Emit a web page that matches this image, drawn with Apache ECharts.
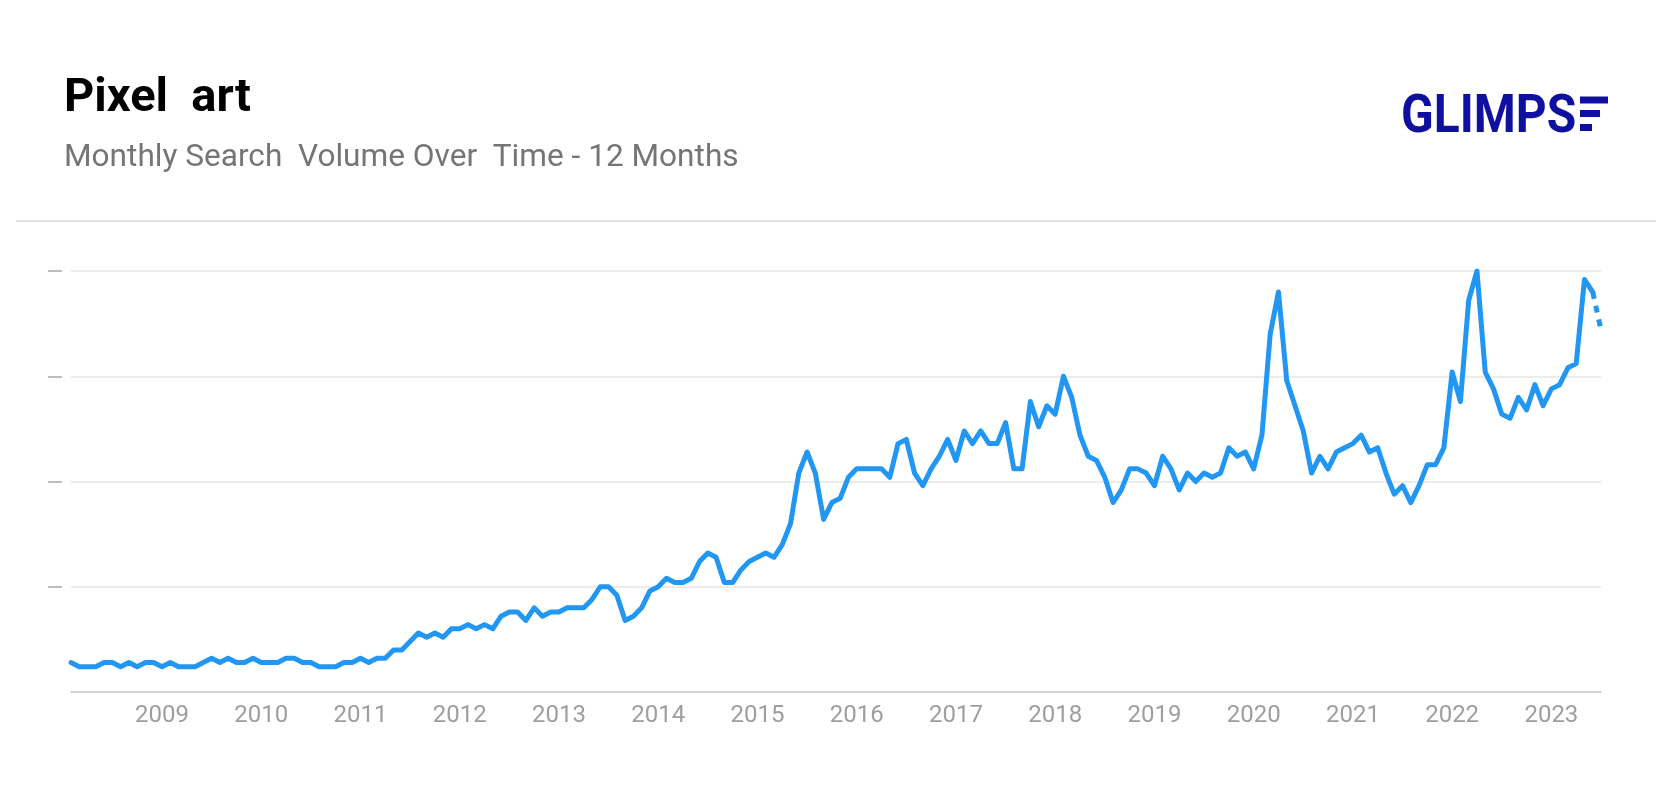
<!DOCTYPE html>
<html>
<head>
<meta charset="utf-8">
<script src="https://cdn.jsdelivr.net/npm/echarts@6/dist/echarts.min.js"></script>
<style>
html,body{margin:0;padding:0;background:#fff;}
#chart{width:1672px;height:792px;}
</style>
</head>
<body>
<div id="chart"></div>
<script>
// Monthly categories: Feb 2008 .. Jul 2023
const startYear = 2008, startMonth = 2, monthCount = 186;
const months = [];
for (let k = 0; k < monthCount; k++) {
  const m = startMonth - 1 + k;
  const y = startYear + Math.floor(m / 12);
  const mm = (m % 12) + 1;
  months.push(y + '-' + (mm < 10 ? '0' + mm : '' + mm));
}

// Search interest (0-100)
const interest = [
  7,6,6,6,7,7,6,7,6,7,7,
  6,7,6,6,6,7,8,7,8,7,7,8,
  7,7,7,8,8,7,7,6,6,6,7,7,
  8,7,8,8,10,10,12,14,13,14,13,15,
  15,16,15,16,15,18,19,19,17,20,18,19,
  19,20,20,20,22,25,25,23,17,18,20,24,
  25,27,26,26,27,31,33,32,26,26,29,31,
  32,33,32,35,40,52,57,52,41,45,46,51,
  53,53,53,53,51,59,60,52,49,53,56,60,
  55,62,59,62,59,59,64,53,53,69,63,68,
  66,75,70,61,56,55,51,45,48,53,53,52,
  49,56,53,48,52,50,52,51,52,58,56,57,
  53,61,85,95,74,68,62,52,56,53,57,58,
  59,61,57,58,52,47,49,45,49,54,54,58,
  76,69,93,100,76,72,66,65,70,67,73,68,
  72,73,77,78,98,95,86
];

const yTicks = [25, 50, 75, 100];
const titleText = 'Pixel  art';
const subtitleText = 'Monthly Search  Volume Over  Time - 12 Months';
const brandText = 'GLIMPS';

// last (incomplete) month drawn dotted
const solidData = interest.map((v, i) => (i <= interest.length - 2 ? v : null));
const dottedData = interest.map((v, i) => (i >= interest.length - 2 ? v : null));

const chart = echarts.init(document.getElementById('chart'), null, {renderer: 'canvas'});
chart.setOption({
  animation: false,
  backgroundColor: '#ffffff',
  grid: {left: 71, right: 71, top: 271, bottom: 100, containLabel: false},
  graphic: [
    {type: 'text', left: 64, top: 76, style: {text: titleText, font: 'bold 47px Roboto', fill: '#000000'}},
    {type: 'text', left: 64, top: 142, style: {text: subtitleText, font: '31.6px Roboto', fill: '#757575'}},
    {type: 'text', x: 1401, y: 92, scaleY: 1.1, style: {text: brandText, font: 'bold 48px Roboto', fill: '#1010a0'}},
    {type: 'rect', shape: {x: 1580, y: 96.5, width: 28, height: 7}, style: {fill: '#1010a0'}},
    {type: 'rect', shape: {x: 1580, y: 110, width: 20, height: 7}, style: {fill: '#1010a0'}},
    {type: 'rect', shape: {x: 1580, y: 124, width: 12, height: 7}, style: {fill: '#1010a0'}},
    {type: 'line', shape: {x1: 16, y1: 221, x2: 1656, y2: 221}, style: {stroke: '#e3e3e3', lineWidth: 2}}
  ],
  xAxis: {
    type: 'category',
    data: months,
    boundaryGap: false,
    axisLine: {show: true, lineStyle: {color: '#d4d4d4', width: 2}},
    axisTick: {show: false},
    splitLine: {show: false},
    axisLabel: {
      interval: (idx, val) => val.slice(5) === '01',
      formatter: (val) => val.slice(0, 4),
      color: '#9e9e9e',
      fontSize: 24,
      fontFamily: 'Roboto',
      margin: 12
    }
  },
  yAxis: {
    type: 'value',
    min: 0,
    max: 100,
    interval: 25,
    offset: 9,
    axisLine: {show: false},
    axisLabel: {show: false},
    axisTick: {show: true, length: 14, customValues: yTicks, lineStyle: {color: '#bdbdbd', width: 2}},
    splitLine: {show: true, lineStyle: {color: '#e6e6e6', width: 1.5}}
  },
  series: [
    {
      type: 'line',
      data: solidData,
      showSymbol: false,
      symbol: 'none',
      connectNulls: false,
      lineStyle: {color: '#2196f3', width: 5, cap: 'round', join: 'round'},
      z: 3
    },
    {
      type: 'line',
      data: dottedData,
      showSymbol: false,
      symbol: 'none',
      lineStyle: {color: '#2196f3', width: 5, type: [7, 7]},
      z: 3
    }
  ]
});
</script>
</body>
</html>
